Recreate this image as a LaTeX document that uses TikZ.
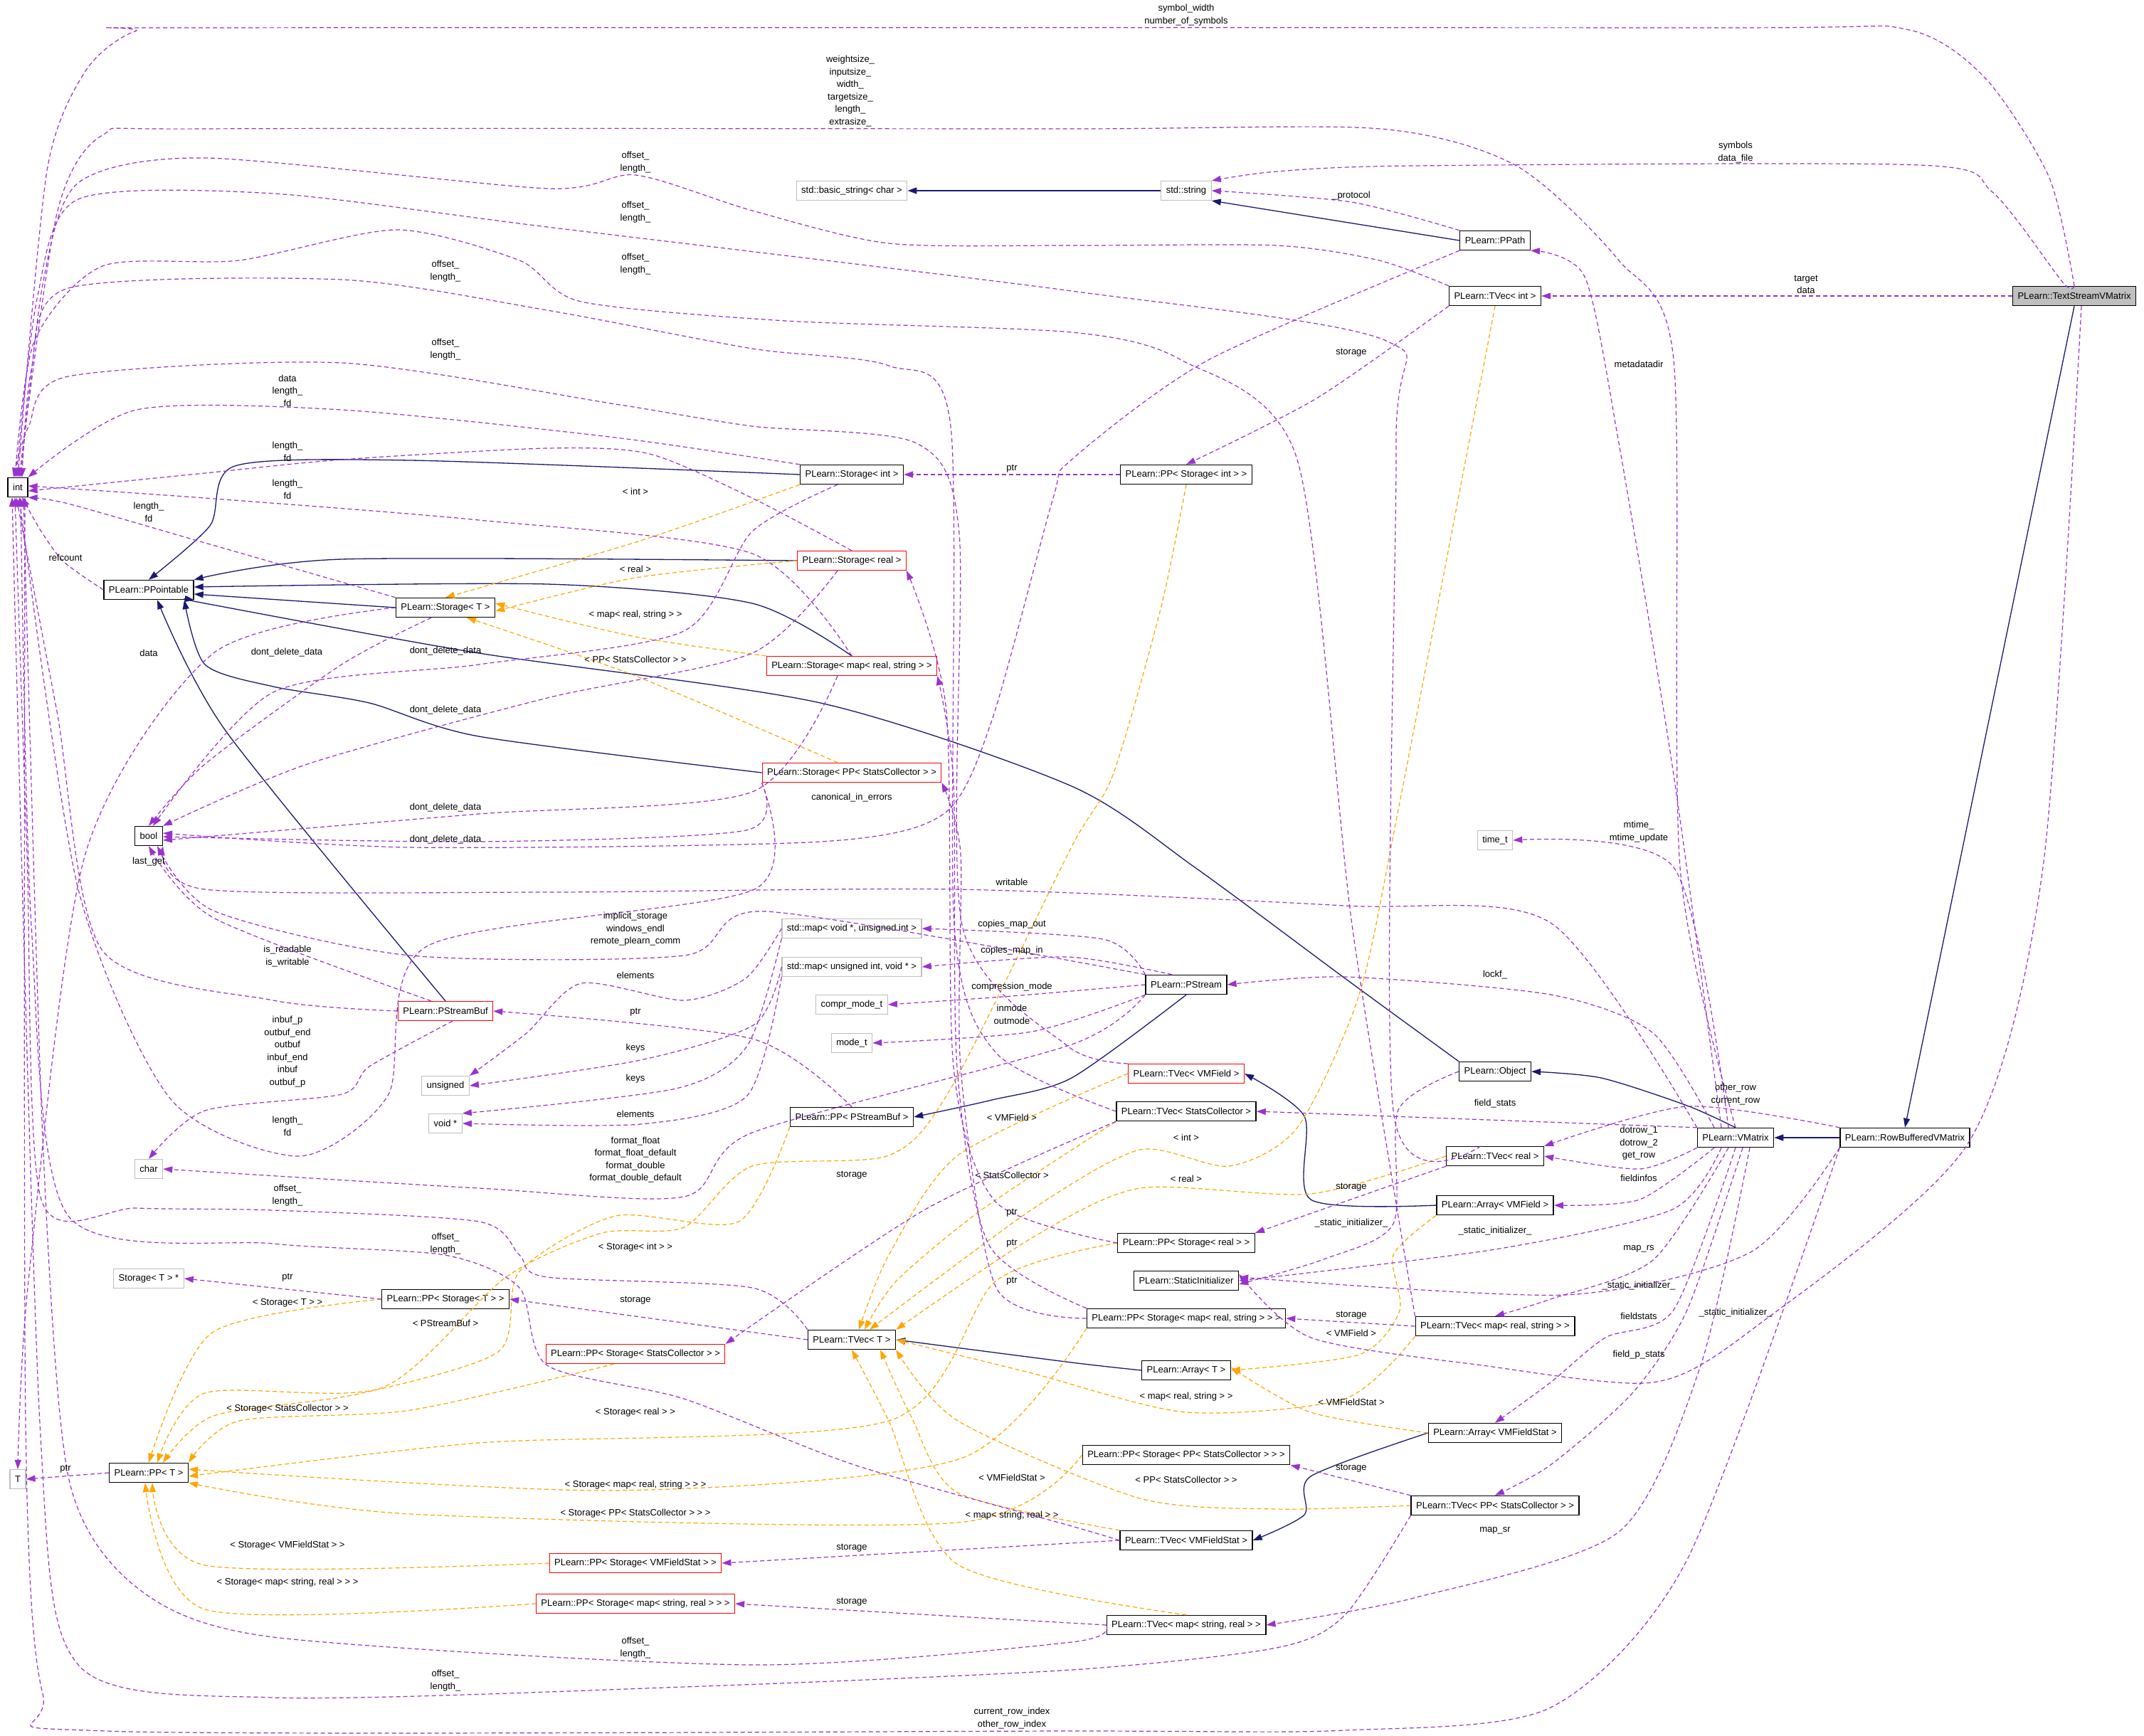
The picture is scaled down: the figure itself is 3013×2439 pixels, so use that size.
\documentclass[tikz,border=0pt]{standalone}
\usepackage{fontspec}
\setmainfont{Liberation Sans}
\usetikzlibrary{arrows.meta}
\definecolor{mem}{HTML}{9A32CD}
\definecolor{tpl}{HTML}{FFA500}
\definecolor{inhc}{HTML}{191970}
\definecolor{gbox}{HTML}{BFBFBF}
\begin{document}
\begin{tikzpicture}[x=1pt,y=-1pt,
  every node/.style={font=\fontsize{13}{17.5}\selectfont},
  cls/.style={draw=black,line width=1.4pt,minimum height=27pt,inner xsep=7pt,inner ysep=2pt},
  rcls/.style={cls,draw=red,line width=1.2pt},
  gcls/.style={cls,draw=gbox,line width=1.2pt},
  lbl/.style={align=center,inner sep=0pt},
  mem/.style={draw=mem,dash pattern=on 6pt off 4pt,line width=1.2pt,-{Triangle[length=13pt,width=9pt]}},
  tmpl/.style={draw=tpl,dash pattern=on 6pt off 4pt,line width=1.2pt,-{Triangle[length=13pt,width=9pt]}},
  inh/.style={draw=inhc,line width=1.3pt,-{Triangle[length=13pt,width=9pt]}},
  sm/.style={smooth,tension=0.45}]
\useasboundingbox (0,0) rectangle (3013,2439);
% nodes
\node[cls] (int) at (25,685) {int};
\node[cls] (bool) at (209,1175) {bool};
\node[gcls] (T) at (25,2079) {T};
\node[cls] (ppt) at (209,829) {PLearn::PPointable};
\node[cls] (sint) at (1197,667) {PLearn::Storage< int >};
\node[rcls] (sreal) at (1197,788) {PLearn::Storage< real >};
\node[cls] (sT) at (626,854) {PLearn::Storage< T >};
\node[rcls] (smap) at (1197,936) {PLearn::Storage< map< real, string > >};
\node[rcls] (spp) at (1197,1086) {PLearn::Storage< PP< StatsCollector > >};
\node[gcls] (bstr) at (1197,268) {std::basic\_string< char >};
\node[gcls] (str) at (1667,268) {std::string};
\node[cls] (ppath) at (2101,338) {PLearn::PPath};
\node[cls] (tvint) at (2101,416) {PLearn::TVec< int >};
\node[cls,fill=gbox] (tsv) at (2915,416) {PLearn::TextStreamVMatrix};
\node[cls] (ppsint) at (1667,667) {PLearn::PP< Storage< int > >};
\node[gcls] (timet) at (2101,1181) {time\_t};
\node[gcls] (mapvp) at (1197,1305) {std::map< void *, unsigned int >};
\node[gcls] (mapuv) at (1197,1359) {std::map< unsigned int, void * >};
\node[gcls] (cmt) at (1197,1412) {compr\_mode\_t};
\node[gcls] (modet) at (1197,1466) {mode\_t};
\node[rcls] (psb) at (626,1421) {PLearn::PStreamBuf};
\node[gcls] (unsig) at (626,1526) {unsigned};
\node[gcls] (voidp) at (626,1579) {void *};
\node[gcls] (chr) at (209,1643) {char};
\node[cls] (pppsb) at (1197,1570) {PLearn::PP< PStreamBuf >};
\node[gcls] (stp) at (209,1797) {Storage< T > *};
\node[cls] (ppsT) at (626,1826) {PLearn::PP< Storage< T > >};
\node[rcls] (ppssc) at (893,1903) {PLearn::PP< Storage< StatsCollector > >};
\node[cls] (tvT) at (1197,1883) {PLearn::TVec< T >};
\node[cls] (ppT) at (209,2070) {PLearn::PP< T >};
\node[rcls] (ppsvfs) at (893,2197) {PLearn::PP< Storage< VMFieldStat > >};
\node[rcls] (ppsmsr) at (893,2254) {PLearn::PP< Storage< map< string, real > > >};
\node[cls] (pstream) at (1667,1384) {PLearn::PStream};
\node[rcls] (tvvf) at (1667,1509) {PLearn::TVec< VMField >};
\node[cls] (tvsc) at (1667,1562) {PLearn::TVec< StatsCollector >};
\node[cls] (obj) at (2101,1506) {PLearn::Object};
\node[cls] (vm) at (2439,1599) {PLearn::VMatrix};
\node[cls] (rbv) at (2677,1599) {PLearn::RowBufferedVMatrix};
\node[cls] (tvreal) at (2101,1625) {PLearn::TVec< real >};
\node[cls] (avf) at (2101,1694) {PLearn::Array< VMField >};
\node[cls] (ppsreal) at (1667,1747) {PLearn::PP< Storage< real > >};
\node[cls] (sinit) at (1667,1800) {PLearn::StaticInitializer};
\node[cls] (ppsmrs) at (1667,1853) {PLearn::PP< Storage< map< real, string > > >};
\node[cls] (tvmrs) at (2101,1864) {PLearn::TVec< map< real, string > >};
\node[cls] (aT) at (1667,1926) {PLearn::Array< T >};
\node[cls] (avfs) at (2101,2014) {PLearn::Array< VMFieldStat >};
\node[cls] (ppspp) at (1667,2045) {PLearn::PP< Storage< PP< StatsCollector > > >};
\node[cls] (tvpp) at (2101,2116) {PLearn::TVec< PP< StatsCollector > >};
\node[cls] (tvvfs) at (1667,2165) {PLearn::TVec< VMFieldStat >};
\node[cls] (tvmsr) at (1667,2284) {PLearn::TVec< map< string, real > >};

% inheritance
\draw[inh] (str) -- (bstr);
\draw[inh] (ppath.west) -- (str.south east);
\draw[inh] plot[sm] coordinates {(sint.west) (577,647) (330,655) (295,739) (ppt.north)};
\draw[inh] plot[sm] coordinates {(sreal.west) (480,786) (ppt.north east)};
\draw[inh] (sT.west) -- ([yshift=-6pt]ppt.east);
\draw[inh] plot[sm] coordinates {(smap.north) (1057,848) (769,821) ([yshift=4pt]ppt.east)};
\draw[inh] plot[sm] coordinates {(spp.west) (673,1035) (519,988) (384,965) (288,934) ([xshift=50pt]ppt.south)};
\draw[inh] plot[sm] coordinates {(psb.north) (317,1027) ([xshift=12pt]ppt.south)};
\draw[inh] plot[sm] coordinates {(obj.north west) (1890,1375) (1679,1219) (1506,1105) (1153,988) (673,918) (288,848) (ppt.south east)};
\draw[inh] plot[sm] coordinates {(pstream.south) (1506,1515) (1394,1546) (pppsb.east)};
\draw[inh] plot[sm] coordinates {(avf.west) (1842,1686) (1833,1569) (tvvf.east)};
\draw[inh] plot[sm] coordinates {(vm.north) (2371,1554) (2250,1515) (obj.east)};
\draw[inh] (rbv) -- (vm);
\draw[inh] (tsv.south) -- (rbv.north);
\draw[inh] plot[sm] coordinates {(aT.west) (1506,1915) (tvT.east)};
\draw[inh] plot[sm] coordinates {(avfs.west) (1842,2075) (1833,2129) (tvvfs.east)};

% templates Storage<T>
\draw[tmpl] plot[sm] coordinates {(sint.south west) (900,760) (sT.north)};
\node[lbl] at (893,691) {< int >};
\draw[tmpl] plot[sm] coordinates {(sreal.west) (893,812) ([yshift=-5pt]sT.east)};
\node[lbl] at (893,800) {< real >};
\draw[tmpl] plot[sm] coordinates {(smap.north west) (893,895) ([yshift=6pt]sT.east)};
\node[lbl] at (893,864) {< map< real, string > >};
\draw[tmpl] plot[sm] coordinates {([xshift=-20pt]spp.north) (893,950) ([xshift=30pt]sT.south)};
\node[lbl] at (893,927) {< PP< StatsCollector > >};
% templates PP<T>
\draw[tmpl] plot[sm] coordinates {(ppsint.south) (1631,856) (1564,1089) (1506,1190) (1336,1530) (1249,1624) (1057,1639) (961,1725) (846,1733) (711,1795) (538,1950) (288,1958) ([xshift=12pt]ppT.north)};
\node[lbl] at (893,1753) {< Storage< int > >};
\draw[tmpl] plot[sm] coordinates {(ppsT.west) (298,1873) (ppT.north)};
\node[lbl] at (404,1831) {< Storage< T > >};
\draw[tmpl] plot[sm] coordinates {(pppsb.south west) (1038,1717) (865,1709) (730,1787) (700,1900) (500,1960) (300,1990) ([xshift=20pt]ppT.north)};
\node[lbl] at (626,1860) {< PStreamBuf >};
\draw[tmpl] plot[sm] coordinates {([xshift=-30pt]ppssc.south) (577,1982) (336,1997) (ppT.north east)};
\node[lbl] at (404,1980) {< Storage< StatsCollector > >};
\draw[tmpl] plot[sm] coordinates {(ppsreal.west) (1400,1800) (1249,1997) (673,2028) ([yshift=-5pt]ppT.east)};
\node[lbl] at (893,1985) {< Storage< real > >};
\draw[tmpl] plot[sm] coordinates {(ppsmrs.south west) (1350,2050) (865,2095) ([yshift=5pt]ppT.east)};
\node[lbl] at (893,2087) {< Storage< map< real, string > > >};
\draw[tmpl] plot[sm] coordinates {(ppspp.west) (1346,2140) (577,2128) (ppT.south east)};
\node[lbl] at (893,2127) {< Storage< PP< StatsCollector > > >};
\draw[tmpl] plot[sm] coordinates {(ppsvfs.west) (288,2200) ([xshift=5pt]ppT.south)};
\node[lbl] at (404,2172) {< Storage< VMFieldStat > >};
\draw[tmpl] plot[sm] coordinates {(ppsmsr.west) (288,2262) ([xshift=-5pt]ppT.south)};
\node[lbl] at (404,2224) {< Storage< map< string, real > > >};
% templates TVec<T>
\draw[tmpl] plot[sm] coordinates {(tvint.south) (1967,1128) (1910,1398) (1823,1585) (1727,1639) (1602,1616) (1450,1700) ([xshift=25pt]tvT.north)};
\node[lbl] at (1667,1599) {< int >};
\draw[tmpl] plot[sm] coordinates {(tvvf.west) (1346,1624) (1249,1764) ([xshift=10pt]tvT.north)};
\node[lbl] at (1422,1571) {< VMField >};
\draw[tmpl] plot[sm] coordinates {(tvsc.south west) (1380,1700) (1260,1800) ([xshift=18pt]tvT.north)};
\node[lbl] at (1422,1652) {< StatsCollector >};
\draw[tmpl] plot[sm] coordinates {(tvreal.west) (1842,1678) (1602,1670) (1450,1740) (tvT.north east)};
\node[lbl] at (1667,1657) {< real >};
\draw[tmpl] plot[sm] coordinates {(tvmrs.south west) (1890,1966) (1667,1985) (1450,1930) (tvT.east)};
\node[lbl] at (1667,1963) {< map< real, string > >};
\draw[tmpl] plot[sm] coordinates {(tvpp.west) (1794,2121) (1602,2106) (1346,1997) (tvT.south east)};
\node[lbl] at (1667,2080) {< PP< StatsCollector > >};
\draw[tmpl] plot[sm] coordinates {(tvvfs.north west) (1346,2098) (1280,1990) ([xshift=40pt]tvT.south)};
\node[lbl] at (1422,2077) {< VMFieldStat >};
\draw[tmpl] plot[sm] coordinates {(tvmsr.north) (1346,2199) (1249,1997) (tvT.south)};
\node[lbl] at (1422,2130) {< map< string, real > >};
\draw[tmpl] plot[sm] coordinates {(avf.south west) (1958,1764) (1967,1842) (1910,1904) (aT.east)};
\node[lbl] at (1899,1874) {< VMField >};
\draw[tmpl] plot[sm] coordinates {(avfs.west) (1842,1985) ([yshift=4pt]aT.east)};
\node[lbl] at (1899,1971) {< VMFieldStat >};

% members to int (top)
\draw[mem] plot[sm] coordinates {(tsv.north) (2880,250) (2790,110) (2678,41) (2400,39) (300,39) (190,44) (120,100) (66,240) (int.north)};
\node[lbl] at (1667,21) {symbol\_width\\number\_of\_symbols};
\draw[mem] plot[sm] coordinates {(vm.north) (2361,1219) (2352,506) (2275,366) (2131,233) (1939,181) (1500,181) (288,181) (144,190) (80,300) ([xshift=2pt]int.north)};
\node[lbl] at (1195,128) {weightsize\_\\inputsize\_\\width\_\\targetsize\_\\length\_\\extrasize\_};
\draw[mem] plot[sm] coordinates {(tvint.north west) (1938,366) (1794,345) (1506,345) (1249,342) (1057,296) (893,246) (769,265) (288,222) (110,257) (60,400) ([xshift=4pt]int.north)};
\node[lbl] at (893,228) {offset\_\\length\_};
\draw[mem] plot[sm] coordinates {([xshift=-20pt]tvreal.north) (1958,1561) (1962,623) (1948,479) (1506,409) (769,319) (384,272) (110,280) (52,420) ([xshift=-2pt]int.north)};
\node[lbl] at (893,298) {offset\_\\length\_};
\draw[mem] plot[sm] coordinates {(tvmrs.north west) (1900,1300) (1823,646) (1660,506) (1506,467) (1105,451) (817,424) (730,366) (557,323) (336,366) (144,374) (48,480) ([xshift=-4pt]int.north)};
\node[lbl] at (893,371) {offset\_\\length\_};
\draw[mem] plot[sm] coordinates {(tvsc.west) (1400,1480) (1341,1300) (1336,599) (1249,514) (1057,490) (769,436) (480,393) (96,405) (44,520) ([xshift=6pt]int.north)};
\node[lbl] at (626,381) {offset\_\\length\_};
\draw[mem] plot[sm] coordinates {(tvvf.north west) (1500,1470) (1352,1300) (1348,750) (1288,623) (1057,599) (865,568) (480,510) (96,529) (40,600) ([xshift=-6pt]int.north)};
\node[lbl] at (626,491) {offset\_\\length\_};
\draw[mem] plot[sm] coordinates {(sint.north west) (865,615) (480,576) (192,576) (int.north east)};
\node[lbl] at (404,549) {data\\length\_\\fd};
\draw[mem] plot[sm] coordinates {(sreal.north) (1057,700) (913,638) (769,630) (480,646) (288,665) ([yshift=-5pt]int.east)};
\node[lbl] at (404,635) {length\_\\fd};
\draw[mem] plot[sm] coordinates {(smap.north) (1057,778) (673,731) (288,700) ([yshift=2pt]int.east)};
\node[lbl] at (404,688) {length\_\\fd};
\draw[mem] plot[sm] coordinates {(sT.north west) (288,763) (96,708) (int.south east)};
\node[lbl] at (209,720) {length\_\\fd};
\draw[mem] plot[sm] coordinates {(ppt.west) (90,790) (58,747) ([xshift=6pt]int.south)};
\node[lbl] at (92,784) {refcount};
% members to int (bottom)
\draw[mem] plot[sm] coordinates {(spp.south west) (1060,1250) (600,1330) (545,1540) (420,1625) (240,1545) (110,1250) ([xshift=2pt]int.south)};
\node[lbl] at (404,1583) {length\_\\fd};
\draw[mem] plot[sm] coordinates {(psb.west) (384,1406) (144,1336) (80,1000) ([xshift=-2pt]int.south)};
\node[lbl] at (404,1344) {is\_readable\\is\_writable};
\draw[mem] plot[sm] coordinates {(tvT.north west) (1057,1810) (769,1795) (730,1764) (673,1717) (384,1701) (192,1698) (58,1686) (38,1200) ([xshift=-4pt]int.south)};
\node[lbl] at (404,1680) {offset\_\\length\_};
\draw[mem] plot[sm] coordinates {(tvvfs.west) (1506,2145) (1201,2059) (961,1966) (769,1919) (730,1810) (625,1764) (384,1748) (96,1709) (44,1300) ([xshift=4pt]int.south)};
\node[lbl] at (626,1748) {offset\_\\length\_};
\draw[mem] plot[sm] coordinates {(tvmsr.west) (1506,2308) (1057,2340) (384,2301) (192,2231) (96,2075) (60,1600) ([xshift=8pt]int.south)};
\node[lbl] at (893,2316) {offset\_\\length\_};
\draw[mem] plot[sm] coordinates {(tvpp.south west) (1890,2270) (1794,2316) (1506,2347) (961,2371) (384,2386) (110,2340) (56,2000) ([xshift=-8pt]int.south)};
\node[lbl] at (626,2362) {offset\_\\length\_};
\draw[mem] plot[sm] coordinates {(rbv.south west) (2371,2192) (2179,2400) (1890,2432) (1500,2433) (150,2433) (60,2380) (36,2000) ([xshift=10pt]int.south)};
\node[lbl] at (1422,2415) {current\_row\_index\\other\_row\_index};

% members to bool
\draw[mem] plot[sm] coordinates {([xshift=-20pt]sT.south) (480,934) (288,1074) (bool.north)};
\node[lbl] at (403,917) {dont\_delete\_data};
\draw[mem] plot[sm] coordinates {([xshift=-20pt]sint.south) (1057,747) (961,887) (673,934) (384,973) ([xshift=6pt]bool.north)};
\node[lbl] at (626,915) {dont\_delete\_data};
\draw[mem] plot[sm] coordinates {([xshift=-20pt]sreal.south) (1057,918) (769,981) (432,1074) (bool.north east)};
\node[lbl] at (626,998) {dont\_delete\_data};
\draw[mem] plot[sm] coordinates {([xshift=-20pt]smap.south) (1057,1113) (673,1144) ([yshift=-6pt]bool.east)};
\node[lbl] at (626,1135) {dont\_delete\_data};
\draw[mem] plot[sm] coordinates {(spp.south west) (1048,1167) (673,1183) ([yshift=-1pt]bool.east)};
\node[lbl] at (626,1180) {dont\_delete\_data};
\draw[mem] plot[sm] coordinates {(ppath.south west) (1698,506) (1506,646) (1480,700) (1394,1012) (1326,1144) (1153,1183) (577,1191) ([yshift=4pt]bool.east)};
\node[lbl] at (1197,1121) {canonical\_in\_errors};
\draw[mem] plot[sm] coordinates {(vm.north west) (2179,1297) (1890,1273) (1346,1250) (769,1254) (288,1250) (bool.south east)};
\node[lbl] at (1422,1240) {writable};
\draw[mem] plot[sm] coordinates {(pstream.north west) (1076,1281) (961,1343) (577,1343) (300,1280) ([xshift=12pt]bool.south)};
\node[lbl] at (893,1306) {implicit\_storage\\windows\_endl\\remote\_plearn\_comm};
\draw[mem] plot[sm] coordinates {([xshift=-20pt]psb.north) (300,1290) (bool.south)};
\node[lbl] at (209,1211) {last\_get};

% other members
\draw[mem] plot[sm] coordinates {(sT.west) (300,918) (120,1200) (40,1800) (T.north)};
\node[lbl] at (209,918) {data};
\draw[mem] plot[sm] coordinates {(tsv.north) (2899,397) (2800,270) (2698,232) (1986,233) (1794,241) (str.north east)};
\node[lbl] at (2439,214) {symbols\\data\_file};
\draw[mem] plot[sm] coordinates {(ppath.north west) (1899,284) (str.east)};
\node[lbl] at (1899,275) {\_protocol};
\draw[mem] (tsv) -- (tvint);
\node[lbl] at (2538,400) {target\\data};
\draw[mem] plot[sm] coordinates {(tvint.south west) (1850,560) (ppsint.north)};
\node[lbl] at (1899,496) {storage};
\draw[mem] (ppsint) -- (sint);
\node[lbl] at (1422,659) {ptr};
\draw[mem] plot[sm] coordinates {([xshift=-20pt]vm.north) (2352,1089) (2275,623) (2227,389) (ppath.south east)};
\node[lbl] at (2303,512) {metadatadir};
\draw[mem] plot[sm] coordinates {([xshift=-10pt]vm.north) (2352,1219) (timet.east)};
\node[lbl] at (2303,1169) {mtime\_\\mtime\_update};
\draw[mem] plot[sm] coordinates {([xshift=-30pt]vm.north) (2323,1452) (2179,1398) (1890,1373) (pstream.east)};
\node[lbl] at (2101,1370) {lockf\_};
\draw[mem] (vm.north west) -- (tvsc.east);
\node[lbl] at (2101,1551) {field\_stats};
\draw[mem] plot[sm] coordinates {(rbv.north west) (2371,1555) (tvreal.north east)};
\node[lbl] at (2439,1538) {other\_row\\current\_row};
\draw[mem] plot[sm] coordinates {(vm.south west) (2304,1643) (tvreal.east)};
\node[lbl] at (2303,1607) {dotrow\_1\\dotrow\_2\\get\_row};
\draw[mem] plot[sm] coordinates {([xshift=-30pt]vm.south) (2304,1686) (avf.east)};
\node[lbl] at (2303,1656) {fieldinfos};
\draw[mem] plot[sm] coordinates {([xshift=-20pt]vm.south) (2350,1700) (2101,1756) (sinit.east)};
\node[lbl] at (2101,1730) {\_static\_initializer\_};
\draw[mem] plot[sm] coordinates {(obj.west) (1965,1560) (1958,1720) (1860,1770) ([yshift=-5pt]sinit.east)};
\node[lbl] at (1899,1719) {\_static\_initializer\_};
\draw[mem] plot[sm] coordinates {(rbv.south west) (2460,1760) (2200,1820) ([yshift=5pt]sinit.east)};
\node[lbl] at (2303,1807) {\_static\_initializer\_};
\draw[mem] plot[sm] coordinates {([xshift=10pt]tsv.south) (2871,1219) (2765,1608) (2467,1865) (2323,1943) (2083,1919) (1842,1880) ([yshift=9pt]sinit.east)};
\node[lbl] at (2439,1845) {\_static\_initializer\_};
\draw[mem] plot[sm] coordinates {([xshift=-10pt]vm.south) (2323,1771) (2179,1826) (tvmrs.north)};
\node[lbl] at (2303,1755) {map\_rs};
\draw[mem] plot[sm] coordinates {(vm.south) (2352,1841) (2256,1880) (2179,1943) (avfs.north)};
\node[lbl] at (2303,1850) {fieldstats};
\draw[mem] plot[sm] coordinates {([xshift=10pt]vm.south) (2371,1841) (2294,1958) (2179,2059) (tvpp.north)};
\node[lbl] at (2303,1904) {field\_p\_stats};
\draw[mem] plot[sm] coordinates {([xshift=20pt]vm.south) (2390,1919) (2275,2153) (1987,2246) (tvmsr.east)};
\node[lbl] at (2101,2151) {map\_sr};
\draw[mem] plot[sm] coordinates {(tvreal.south west) (ppsreal.north east)};
\node[lbl] at (1899,1669) {storage};
\draw[mem] (tvmrs.west) -- (ppsmrs.east);
\node[lbl] at (1899,1849) {storage};
\draw[mem] (tvpp.north west) -- (ppspp.south east);
\node[lbl] at (1899,2064) {storage};
\draw[mem] (tvvfs.west) -- (ppsvfs.east);
\node[lbl] at (1197,2176) {storage};
\draw[mem] (tvmsr.west) -- (ppsmsr.east);
\node[lbl] at (1197,2252) {storage};
\draw[mem] plot[sm] coordinates {(tvsc.south west) (1300,1700) (ppssc.north east)};
\node[lbl] at (1197,1652) {storage};
\draw[mem] (tvT.west) -- (ppsT.east);
\node[lbl] at (893,1828) {storage};
\draw[mem] (ppsT.west) -- (stp.east);
\node[lbl] at (404,1796) {ptr};
\draw[mem] (ppT.west) -- (T.east);
\node[lbl] at (92,2065) {ptr};
\draw[mem] plot[sm] coordinates {(ppsreal.west) (1400,1690) (1340,1500) (1330,1000) (sreal.south east)};
\node[lbl] at (1422,1705) {ptr};
\draw[mem] plot[sm] coordinates {(ppsmrs.north west) (1390,1750) (1345,1500) (1340,1100) (smap.south east)};
\node[lbl] at (1422,1748) {ptr};
\draw[mem] plot[sm] coordinates {(ppsmrs.west) (1400,1810) (1350,1500) (1350,1200) (spp.south east)};
\node[lbl] at (1422,1801) {ptr};
\draw[mem] plot[sm] coordinates {(pppsb.north) (1057,1460) (psb.east)};
\node[lbl] at (893,1423) {ptr};
\draw[mem] plot[sm] coordinates {([xshift=10pt]psb.south) (519,1499) (480,1538) (288,1561) (chr.north)};
\node[lbl] at (404,1478) {inbuf\_p\\outbuf\_end\\outbuf\\inbuf\_end\\inbuf\\outbuf\_p};
\draw[mem] plot[sm] coordinates {(pstream.south west) (1506,1468) (1057,1592) (961,1682) (673,1670) (chr.east)};
\node[lbl] at (893,1630) {format\_float\\format\_float\_default\\format\_double\\format\_double\_default};
\draw[mem] plot[sm] coordinates {(pstream.north west) (1550,1320) (mapvp.east)};
\node[lbl] at (1422,1299) {copies\_map\_out};
\draw[mem] plot[sm] coordinates {([xshift=-20pt]pstream.north) (1500,1345) (mapuv.east)};
\node[lbl] at (1422,1336) {copies\_map\_in};
\draw[mem] plot[sm] coordinates {(pstream.west) (1422,1400) (cmt.east)};
\node[lbl] at (1422,1387) {compression\_mode};
\draw[mem] plot[sm] coordinates {(pstream.south west) (1450,1450) (modet.east)};
\node[lbl] at (1422,1426) {inmode\\outmode};
\draw[mem] plot[sm] coordinates {(mapvp.west) (1048,1375) (961,1406) (817,1382) (740,1452) (unsig.north east)};
\node[lbl] at (893,1371) {elements};
\draw[mem] plot[sm] coordinates {(mapuv.west) (1060,1440) (900,1490) (unsig.east)};
\node[lbl] at (893,1473) {keys};
\draw[mem] plot[sm] coordinates {(mapvp.south west) (1050,1470) (950,1530) (voidp.north east)};
\node[lbl] at (893,1516) {keys};
\draw[mem] plot[sm] coordinates {(mapuv.south west) (1050,1540) (900,1580) (voidp.east)};
\node[lbl] at (893,1566) {elements};
\end{tikzpicture}
\end{document}
